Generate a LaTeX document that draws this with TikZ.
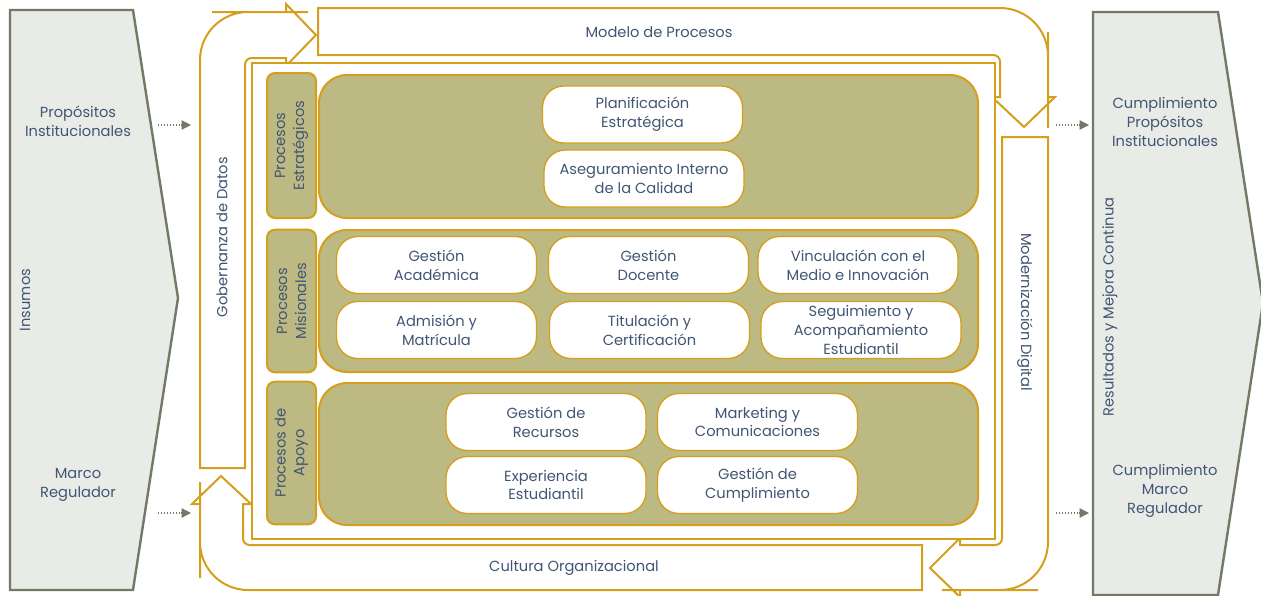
\documentclass[tikz,border=0pt]{standalone}
\usepackage{fontspec}
\setmainfont{Poppins}
\usetikzlibrary{arrows.meta}

\definecolor{gold}{HTML}{D49F1C}
\definecolor{khaki}{HTML}{BDB983}
\definecolor{inkblue}{HTML}{415574}
\definecolor{sage}{HTML}{6F7B66}
\definecolor{paper}{HTML}{E9EBE6}

\begin{document}
\begin{tikzpicture}[x=0.75pt, y=-0.75pt, font=\fontsize{11}{14.2}\selectfont, text=inkblue,
	band/.style={draw=gold, line width=1.5pt, fill=white},
	rowbox/.style={draw=gold, line width=1.5pt, fill=khaki, rounded corners=21pt},
	rowlabel/.style={draw=gold, line width=1.5pt, fill=khaki, rounded corners=6pt, rotate=90,
		minimum width=107pt, minimum height=36.75pt, inner sep=0pt, align=center},
	pill/.style={draw=gold, line width=1pt, fill=white, rounded corners=16pt,
		minimum width=150pt, minimum height=42.75pt, inner sep=0pt, align=center},
	side/.style={draw=sage, line width=1.8pt, fill=paper},
	flow/.style={draw=sage, line width=0.9pt, dash pattern=on 1pt off 1.2pt, -{Triangle[length=7pt, width=7pt]}}]
		\useasboundingbox (0,0) rectangle (1261,596);

		% inputs and outputs
		\draw[side] (10,10) -- (133,10) -- (178,298) -- (133,590) -- (10,590) -- cycle;
		\draw[side] (1093,12) -- (1218,12) -- (1263,303) -- (1218,595) -- (1093,595) -- cycle;

		\node[rotate=90] (insumos) at (25,300) {Insumos};
		\node[align=center] (propositos) at (78,121) {Propósitos\\Institucionales};
		\node[align=center] (marco) at (78,485) {Marco\\Regulador};
		\node[rotate=90] (resultados) at (1110,307) {Resultados y Mejora Continua};
		\node[align=center] (cumpProp) at (1165,122) {Cumplimiento\\Propósitos\\Institucionales};
		\node[align=center] (cumpMarco) at (1165,491) {Cumplimiento\\Marco\\Regulador};

		\coordinate (inTopA) at (158,125);
		\coordinate (inTopB) at (191,125);
		\coordinate (inBotA) at (158,513);
		\coordinate (inBotB) at (191,513);
		\coordinate (outTopA) at (1056,125);
		\coordinate (outTopB) at (1089,125);
		\coordinate (outBotA) at (1056,513);
		\coordinate (outBotB) at (1089,513);
		\draw[flow] (inTopA) -- (inTopB);
		\draw[flow] (inBotA) -- (inBotB);
		\draw[flow] (outTopA) -- (outTopB);
		\draw[flow] (outBotA) -- (outBotB);

		% cycle of arrows
		\draw[band] (200,468) -- (200,200) [rounded corners=36pt] -- (200,12) -- (260,12) [sharp corners]
			-- (286,12) -- (286,4) -- (316,35) -- (286,66) -- (286,58) -- (270,58) [rounded corners=5pt]
			-- (245,58) -- (245,100) [sharp corners] -- (245,468) -- cycle;
		\draw[band] (318,8) -- (950,8) [rounded corners=36pt] -- (1048,8) -- (1048,80) [sharp corners]
			-- (1048,97) -- (1055,97) -- (1024,127) -- (992,97) -- (1000,97) -- (1000,80) [rounded corners=5pt]
			-- (1000,55) -- (960,55) [sharp corners] -- (318,55) -- cycle;
		\draw[band] (1002,137) -- (1048,137) -- (1048,480) [rounded corners=36pt] -- (1048,590) -- (990,590) [sharp corners]
			-- (960,590) -- (960,597) -- (930,568) -- (960,538) -- (960,545) -- (980,545) [rounded corners=5pt]
			-- (1002,545) -- (1002,520) [sharp corners] -- cycle;
		\draw[band] (922,545) -- (922,590) -- (260,590) [rounded corners=36pt] -- (200,590) -- (200,530) [sharp corners]
			-- (200,504) -- (192,504) -- (221,476) -- (251,504) -- (243,504) -- (243,520) [rounded corners=5pt]
			-- (243,545) -- (265,545) [sharp corners] -- cycle;

		\node[rotate=90] (gobernanza) at (222,237) {Gobernanza de Datos};
		\node (modelo) at (659,32) {Modelo de Procesos};
		\node[rotate=-90] (modernizacion) at (1025,312) {Modernización Digital};
		\node (cultura) at (574,568) {Cultura Organizacional};

		% process map
		\draw[band] (252,63) rectangle (995,539);

		\draw[rowbox] (319,75) rectangle (978,218);
		\draw[rowbox] (319,230) rectangle (978,372);
		\draw[rowbox] (319,383) rectangle (978,525);

		\node[rowlabel, minimum width=108.75pt] (estrategicos) at (291.5,145.5) {Procesos\\Estratégicos};
		\node[rowlabel] (misionales) at (291.5,301) {Procesos\\Misionales};
		\node[rowlabel] (apoyo) at (291.5,453) {Procesos de\\Apoyo};

		\node[pill] (planificacion) at (642.5,114.5) {Planificación\\Estratégica};
		\node[pill] (aseguramiento) at (644,178.5) {Aseguramiento Interno\\de la Calidad};

		\node[pill] (academica) at (436.5,265) {Gestión\\Académica};
		\node[pill] (docente) at (648.5,265) {Gestión\\Docente};
		\node[pill] (vinculacion) at (858,265) {Vinculación con el\\Medio e Innovación};
		\node[pill] (admision) at (436.5,330) {Admisión y\\Matrícula};
		\node[pill] (titulacion) at (649.5,330) {Titulación y\\Certificación};
		\node[pill] (seguimiento) at (861,330) {Seguimiento y\\Acompañamiento\\Estudiantil};

		\node[pill] (recursos) at (546,422) {Gestión de\\Recursos};
		\node[pill] (marketing) at (757.5,422) {Marketing y\\Comunicaciones};
		\node[pill] (experiencia) at (546,485) {Experiencia\\Estudiantil};
		\node[pill] (cumplimiento) at (757.5,485) {Gestión de\\Cumplimiento};
\end{tikzpicture}
\end{document}
